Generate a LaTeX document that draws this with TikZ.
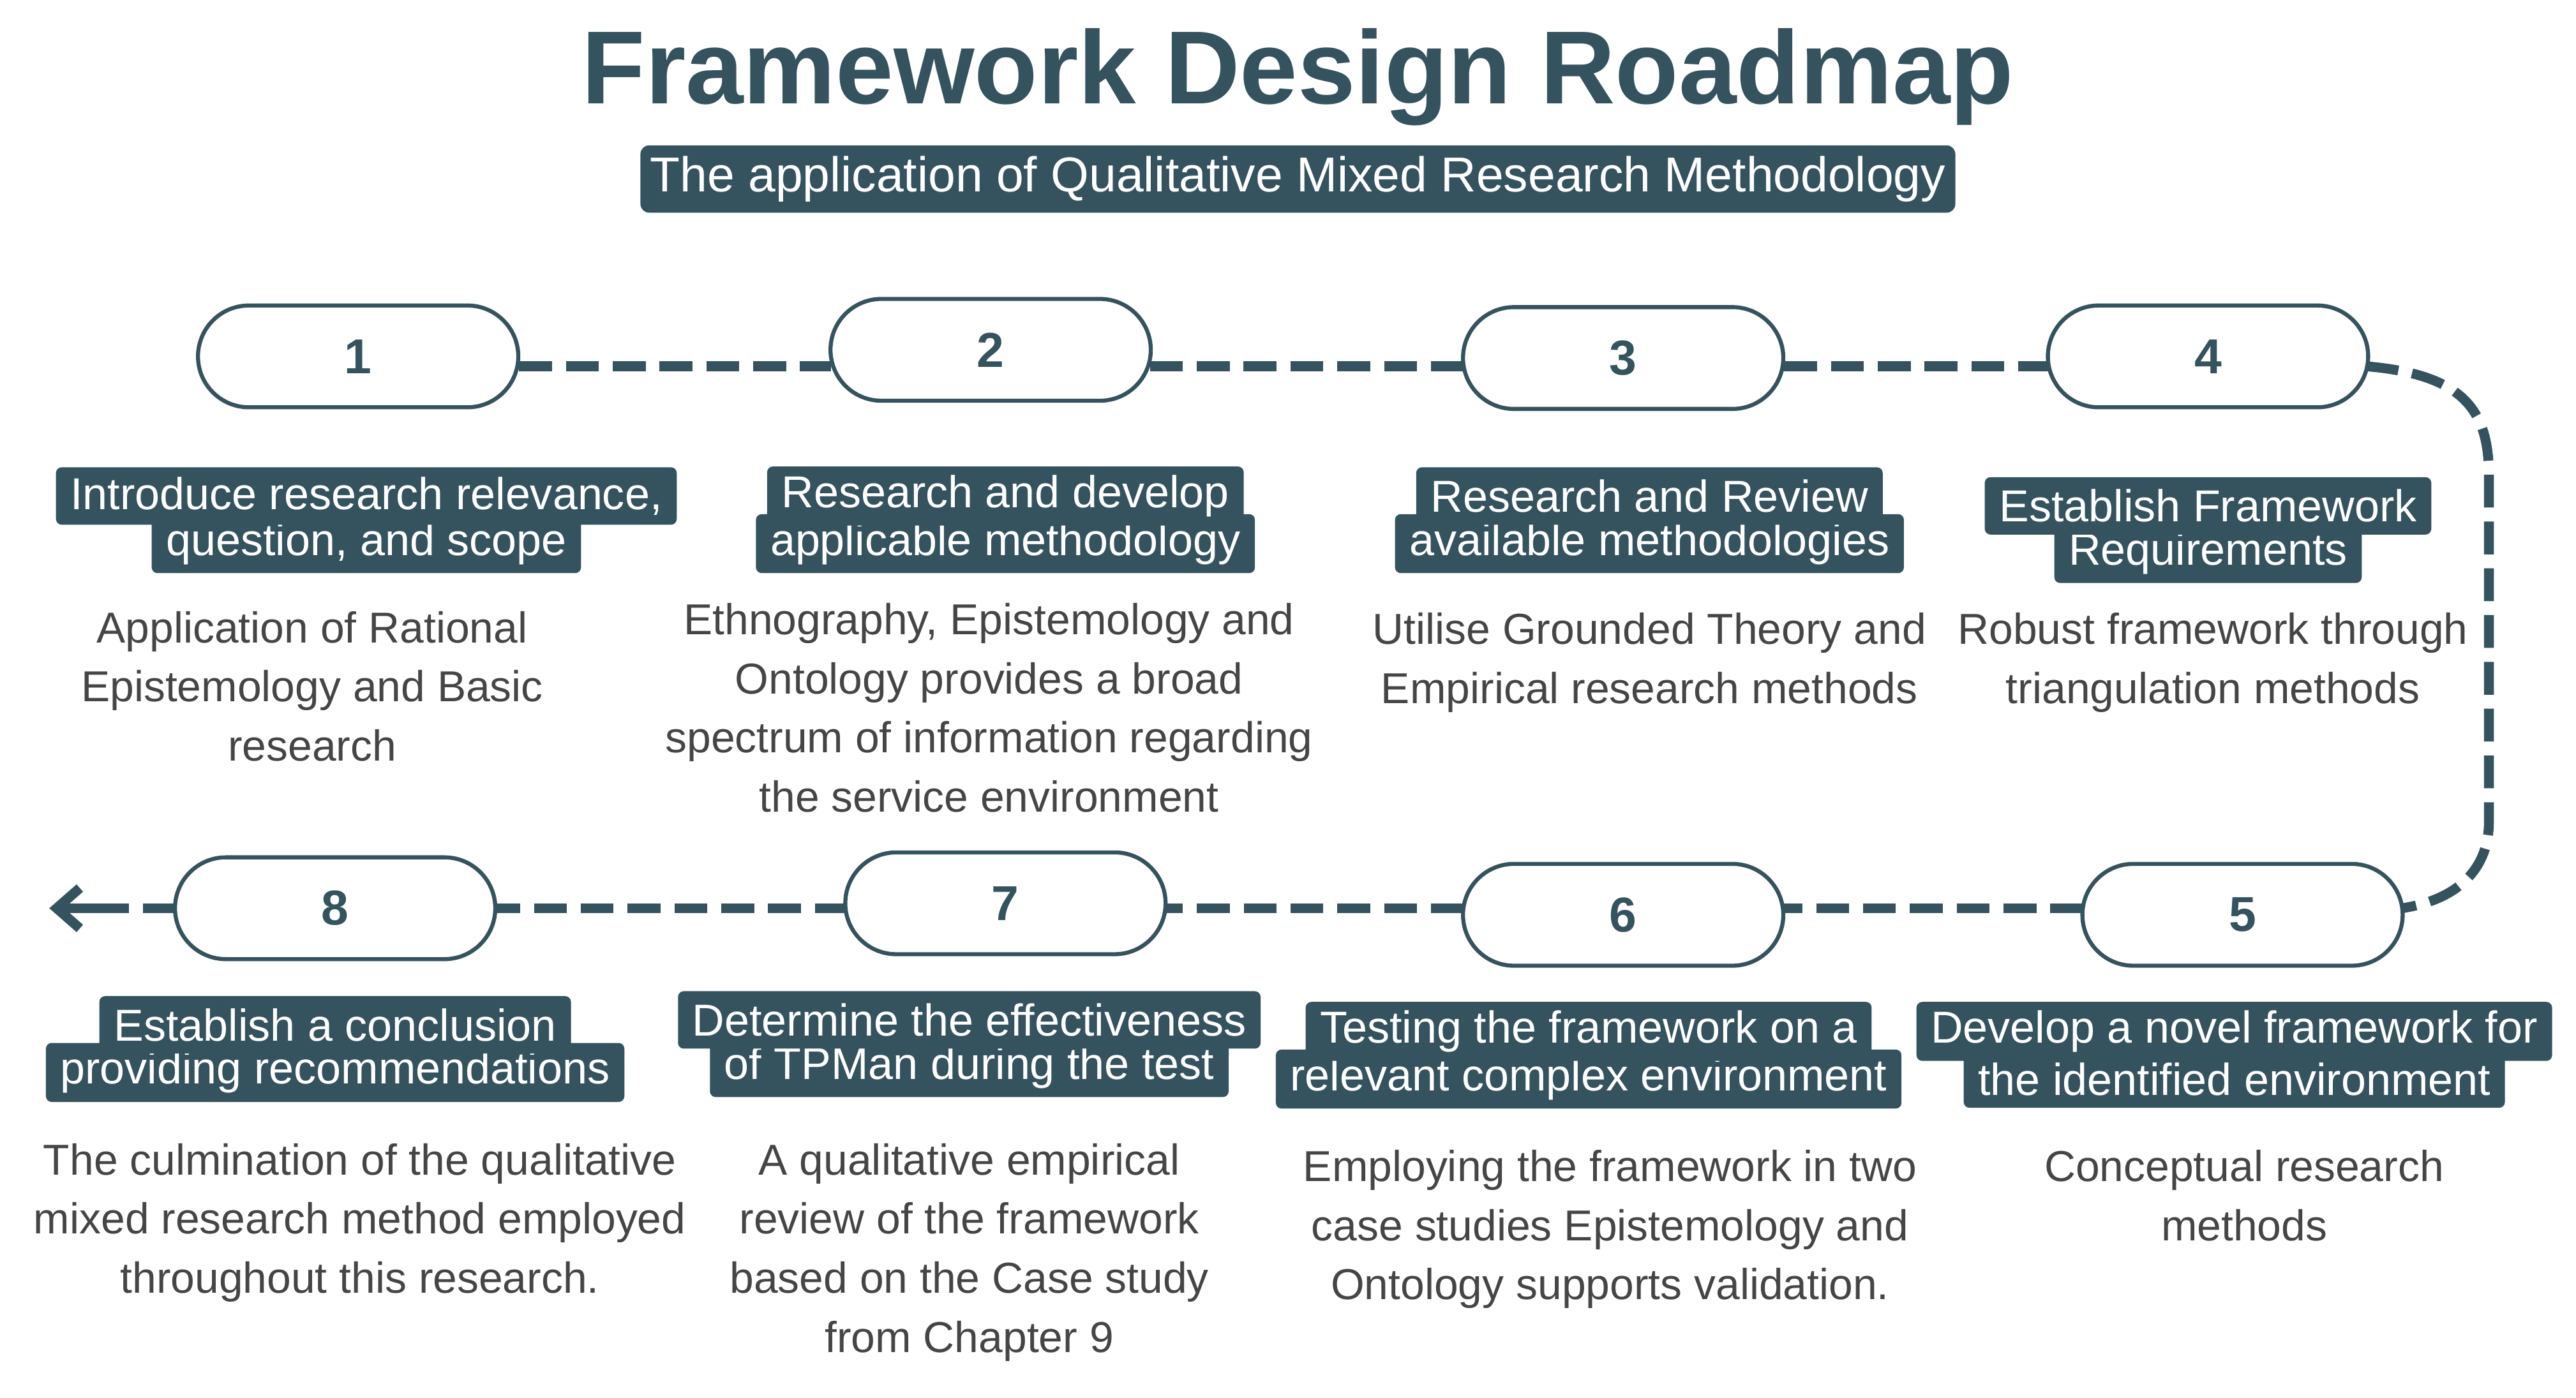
\documentclass[tikz,border=0pt]{standalone}
\usepackage{fontspec}
\setmainfont{Liberation Sans}
\usetikzlibrary{arrows.meta}
\definecolor{mc}{HTML}{34535F}
\definecolor{tc}{HTML}{454545}
\begin{document}
\begin{tikzpicture}[x=0.02cm,y=-0.02cm,
 oval/.style={draw=mc,line width=1.4pt,rounded corners=0.62cm,minimum width=3.9cm,minimum height=1.24cm,fill=white,font=\fontsize{17}{20}\selectfont\bfseries,text=mc},
 lab/.style={fill=mc,text=white,rounded corners=2pt,font=\fontsize{15.5}{18}\selectfont,inner xsep=5pt,inner ysep=3pt,minimum height=0.7cm},
 desc/.style={text=tc,align=center,font=\fontsize{15}{20.5}\selectfont},
 dline/.style={draw=mc,line width=3.4pt,dash pattern=on 0.4cm off 0.17cm}]
\useasboundingbox (0,0) rectangle (1568,851);
\node[text=mc,font=\fontsize{36}{40}\selectfont\bfseries] (title) at (790,47) {Framework Design Roadmap};
\node[fill=mc,text=white,rounded corners=3pt,minimum width=15.2cm,minimum height=0.82cm,font=\fontsize{17}{20}\selectfont] (sub) at (790,109) {The application of Qualitative Mixed Research Methodology};
\coordinate (tip) at (30,553);
\coordinate (c1) at (1515,290); \coordinate (c2) at (1515,500);
\draw[dline] (316,223) -- (506,223);
\draw[dline] (700,223) -- (891,223);
\draw[dline] (1086,223) -- (1247,223);
\draw[dline] (1440,223) .. controls (1500,228) and (1515,250) .. (c1) -- (c2) .. controls (1515,530) and (1495,548) .. (1462,553);
\draw[dline] (1268,553) -- (1086,553);
\draw[dline] (891,553) -- (710,553);
\draw[dline] (516,553) -- (302,553);
\draw[dline] (107,553) -- (48,553);
\draw[mc,line width=3.4pt,-{Straight Barb[length=8pt,width=14pt]}] (60,553) -- (tip);
\node[oval] (n1) at (218,217) {1};
\node[oval] (n2) at (603,213) {2};
\node[oval] (n3) at (988,218) {3};
\node[oval] (n4) at (1344,217) {4};
\node[oval] (n5) at (1365,557) {5};
\node[oval] (n6) at (988,557) {6};
\node[oval] (n7) at (612,550) {7};
\node[oval] (n8) at (204,553) {8};
\node[lab] (l1b) at (223,331) {question, and scope};
\node[lab] (l1a) at (223,302) {Introduce research relevance,};
\node[lab] (l2b) at (612,331) {applicable methodology};
\node[lab] (l2a) at (612,302) {Research and develop};
\node[lab] (l3b) at (1004,331) {available methodologies};
\node[lab] (l3a) at (1004,302) {Research and Review};
\node[lab] (l4b) at (1344,337) {Requirements};
\node[lab] (l4a) at (1344,308) {Establish Framework};
\node[lab] (l5b) at (1360,657) {the identified environment};
\node[lab] (l5a) at (1360,628) {Develop a novel framework for};
\node[lab] (l6b) at (967,657) {relevant complex environment};
\node[lab] (l6a) at (967,628) {Testing the framework on a};
\node[lab] (l7b) at (590,650) {of TPMan during the test};
\node[lab] (l7a) at (590,621) {Determine the effectiveness};
\node[lab] (l8b) at (204,653) {providing recommendations};
\node[lab] (l8a) at (204,624) {Establish a conclusion};
\node[desc,anchor=north] (d1) at (190,366) {Application of Rational\\Epistemology and Basic\\research};
\node[desc,anchor=north] (d2) at (602,361) {Ethnography, Epistemology and\\Ontology provides a broad\\spectrum of information regarding\\the service environment};
\node[desc,anchor=north] (d3) at (1004,367) {Utilise Grounded Theory and\\Empirical research methods};
\node[desc,anchor=north] (d4) at (1347,367) {Robust framework through\\triangulation methods};
\node[desc,anchor=north] (d5) at (1366,694) {Conceptual research\\methods};
\node[desc,anchor=north] (d6) at (980,694) {Employing the framework in two\\case studies Epistemology and\\Ontology supports validation.};
\node[desc,anchor=north] (d7) at (590,690) {A qualitative empirical\\review of the framework\\based on the Case study\\from Chapter 9};
\node[desc,anchor=north] (d8) at (219,690) {The culmination of the qualitative\\mixed research method employed\\throughout this research.};
\end{tikzpicture}
\end{document}
